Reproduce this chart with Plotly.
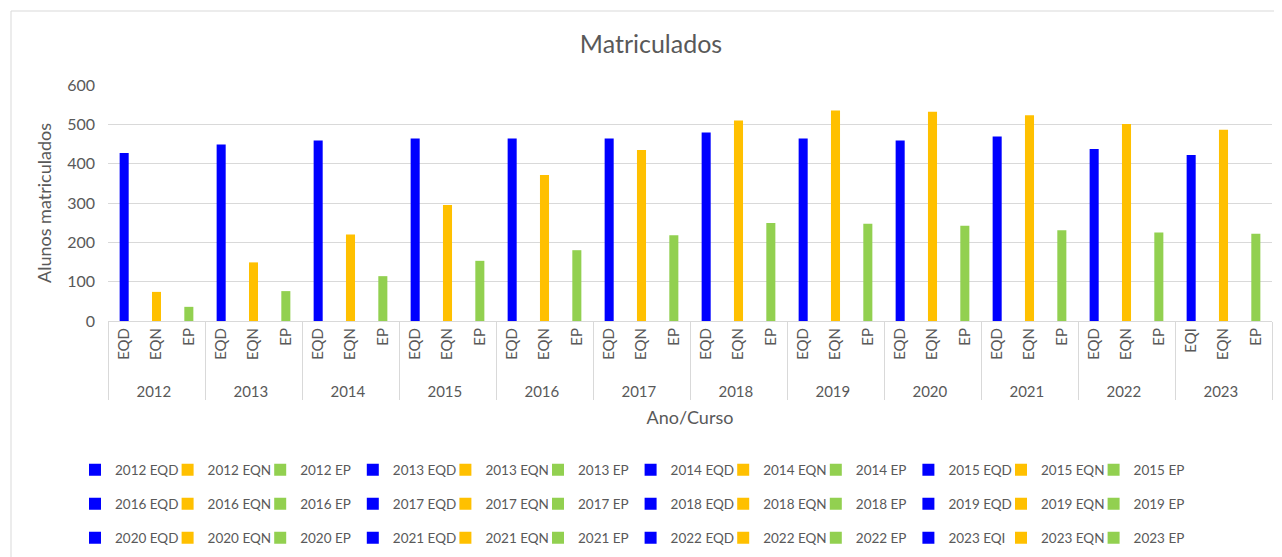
import plotly.graph_objects as go

years = ['2012', '2013', '2014', '2015', '2016', '2017', '2018', '2019', '2020', '2021', '2022', '2023']
first_course = ['EQD', 'EQD', 'EQD', 'EQD', 'EQD', 'EQD', 'EQD', 'EQD', 'EQD', 'EQD', 'EQD', 'EQI']
second_course = ['EQN'] * 12
third_course = ['EP'] * 12
eqd_values = [427, 449, 459, 464, 464, 464, 479, 464, 459, 469, 437, 422]
eqn_values = [74, 149, 220, 295, 371, 435, 510, 535, 532, 523, 501, 486]
ep_values = [36, 76, 114, 153, 180, 218, 249, 247, 242, 231, 225, 222]

BLUE = '#0000FF'
GOLD = '#FFC000'
GREEN = '#92D050'
TXT = '#595959'
GRID = '#D9D9D9'
FONT = 'Lato, Open Sans, sans-serif'

# page is offset by the 8px body margin, so work in figure coordinates
W, H = 1274, 549
L, R, T, B = 100, 10, 77, 236
PW = W - L - R
PH = H - T - B


def py2paper(py):
    return (H - B - py) / PH


def px2paper(px):
    return (px - L) / PW


PAD = '\u00a0\u00a0'  # leading no-break spaces: extra room below the rotated labels

fig = go.Figure()
for i, yr in enumerate(years):
    leg = 'legend' if i < 4 else ('legend2' if i < 8 else 'legend3')
    # a new first-level course (EQI) would be sorted after EQN/EP by plotly's
    # multicategory ordering; mark this group's other labels with a zero-width
    # space so the original order is kept
    suffix = '' if first_course[i] == first_course[0] else '\u200b'
    for course, key, val, col in ((first_course[i], PAD + first_course[i], eqd_values[i], BLUE),
                                  (second_course[i], PAD + second_course[i] + suffix, eqn_values[i], GOLD),
                                  (third_course[i], PAD + third_course[i] + suffix, ep_values[i], GREEN)):
        fig.add_trace(go.Bar(
            x=[[yr], [key]], y=[val], name=f'{yr} {course}',
            marker=dict(color=col, line=dict(width=0)), width=0.28,
            legend=leg,
        ))

leg_common = dict(orientation='h', xanchor='left', yanchor='middle',
                  font=dict(family=FONT, size=13.5, color=TXT),
                  entrywidth=47.6, entrywidthmode='pixels',
                  bgcolor='rgba(0,0,0,0)', itemwidth=30)

LEGX = px2paper(67)

fig.update_layout(
    width=W, height=H,
    margin=dict(l=L, r=R, t=T, b=B, autoexpand=False),
    paper_bgcolor='white', plot_bgcolor='white',
    barmode='overlay',
    title=dict(text='Matriculados', xref='container', yref='container',
               x=643 / W, xanchor='center', y=1 - 36 / H, yanchor='middle',
               font=dict(family=FONT, size=25, color=TXT)),
    font=dict(family=FONT, color=TXT),
    legend=dict(x=LEGX, y=py2paper(462), **leg_common),
    legend2=dict(x=LEGX, y=py2paper(496), **leg_common),
    legend3=dict(x=LEGX, y=py2paper(530), **leg_common),
    yaxis=dict(range=[0, 600], dtick=100, showgrid=True, gridcolor=GRID, gridwidth=1,
               zeroline=False, showline=False, ticks='', ticklabelstandoff=12,
               tickfont=dict(family=FONT, size=16, color=TXT),
               title=dict(text='Alunos matriculados', standoff=10,
                          font=dict(family=FONT, size=18, color=TXT)),
               automargin=False),
    xaxis=dict(type='multicategory', showline=True, linecolor=GRID, linewidth=1,
               showgrid=False, tickangle=-90, showdividers=True, dividercolor=GRID,
               dividerwidth=1, ticks='',
               tickfont=dict(family=FONT, size=15, color=TXT),
               title=dict(text='Ano/Curso', standoff=12,
                          font=dict(family=FONT, size=18, color=TXT)),
               automargin=False),
    shapes=[dict(type='rect', xref='paper', yref='paper',
                 x0=px2paper(3), x1=px2paper(1290), y0=py2paper(575), y1=py2paper(3),
                 line=dict(color=GRID, width=1), fillcolor='rgba(0,0,0,0)', layer='below')],
)

fig.write_html('out.html')
